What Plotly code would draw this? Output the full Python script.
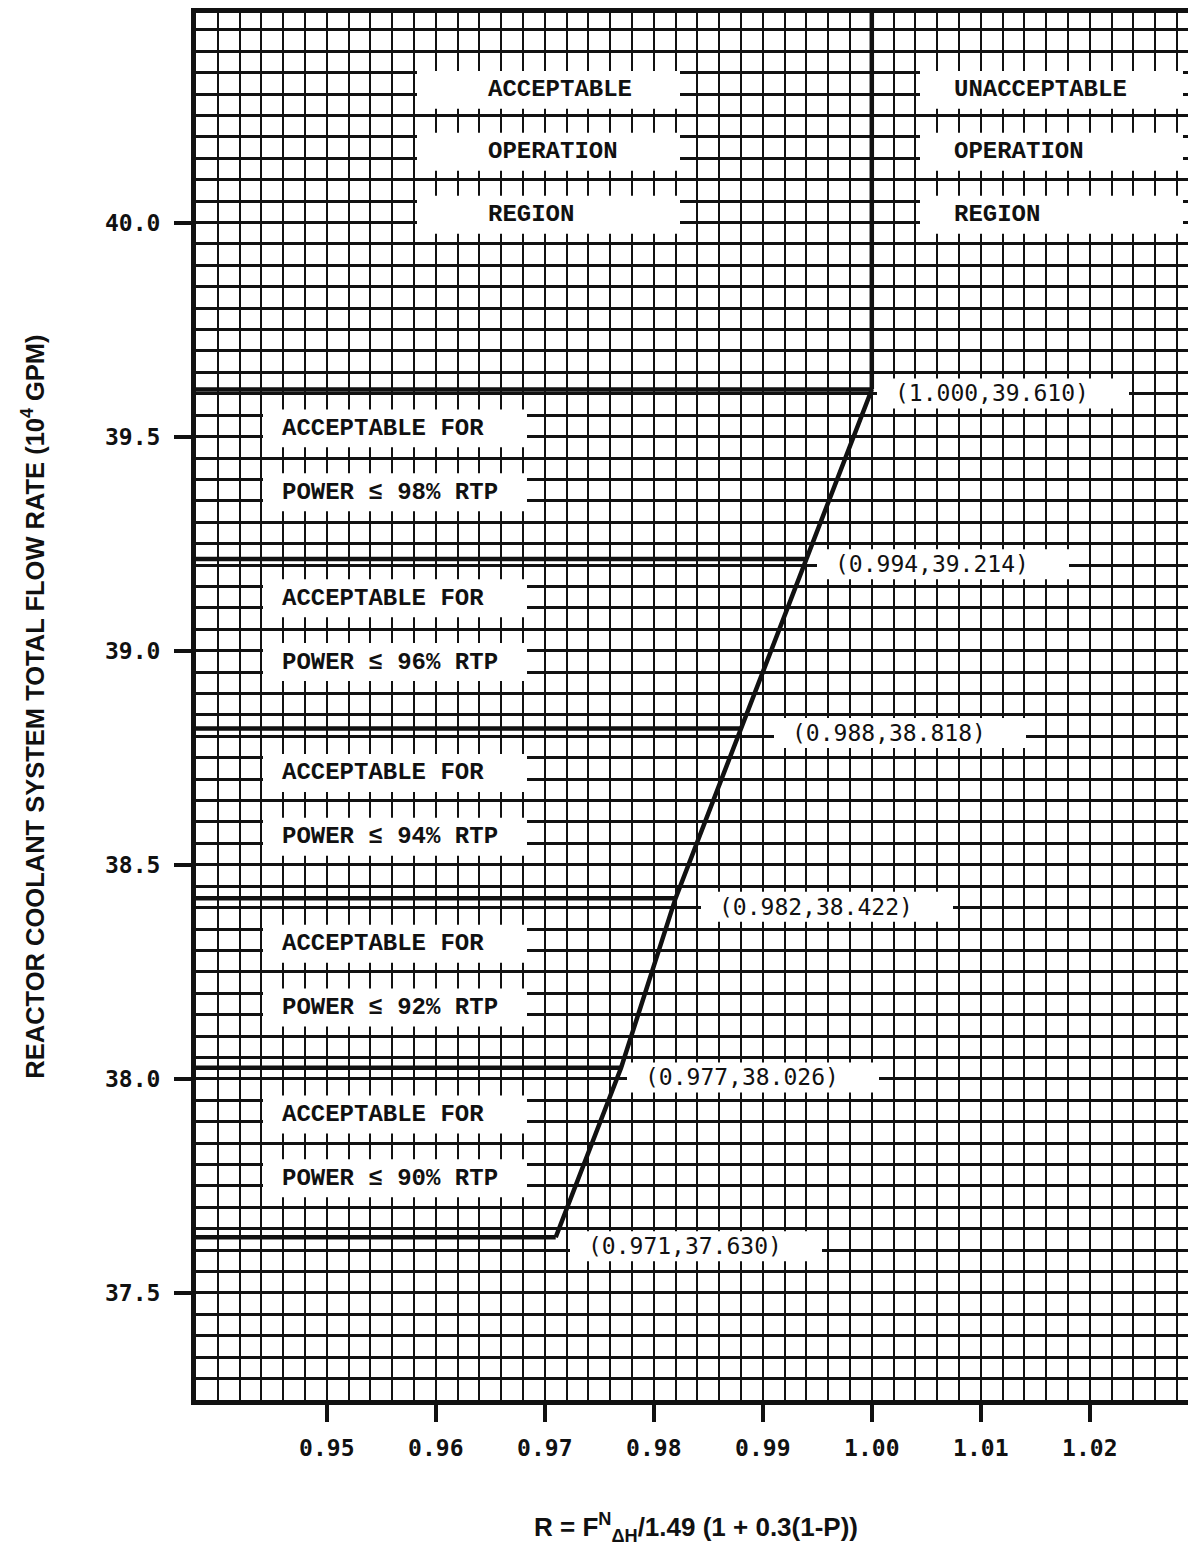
import plotly.graph_objects as go

# ---- data ----
R_points = [0.971, 0.977, 0.982, 0.988, 0.994, 1.000]
F_points = [37.630, 38.026, 38.422, 38.818, 39.214, 39.610]
power_limits = [98, 96, 94, 92, 90]

x_tickvals = [0.95, 0.96, 0.97, 0.98, 0.99, 1.00, 1.01, 1.02]
x_ticktext = ["0.95", "0.96", "0.97", "0.98", "0.99", "1.00", "1.01", "1.02"]
y_tickvals = [37.5, 38.0, 38.5, 39.0, 39.5, 40.0]
y_ticktext = ["37.5", "38.0", "38.5", "39.0", "39.5", "40.0"]

# ---- layout geometry ----
OFF = 8                      # page body margin of the html page
W, H = 1196 - OFF, 1553 - OFF
ML, MR, MT, MB = 188, 0, 3, 153
PW, PH = W - ML - MR, H - MT - MB
XPX, YPX = 10900.0, 428.8    # pixels per unit on each axis
x_range = [0.938, 0.938 + PW / XPX]
y_range = [37.25, 37.25 + PH / YPX]


def gx(page_x):
    """page pixel -> x data value (for placing text/boxes)"""
    return x_range[0] + (page_x - OFF - ML) / XPX


def gy(page_y):
    return y_range[1] - (page_y - OFF - MT) / YPX


BLACK = "#111111"
fig = go.Figure()

# boundary lines: horizontal steps from the left edge to each breakpoint
for r, f in zip(R_points, F_points):
    fig.add_trace(go.Scatter(x=[x_range[0], r], y=[f, f], mode="lines",
                             line=dict(color=BLACK, width=4.5),
                             hoverinfo="skip", showlegend=False))
# diagonal limit line through the breakpoints
fig.add_trace(go.Scatter(x=R_points, y=F_points, mode="lines",
                         line=dict(color=BLACK, width=4.5),
                         hoverinfo="skip", showlegend=False))
# vertical limit at R = 1.000 up to the top
fig.add_trace(go.Scatter(x=[R_points[-1], R_points[-1]], y=[F_points[-1], y_range[1]],
                         mode="lines", line=dict(color=BLACK, width=4.5),
                         hoverinfo="skip", showlegend=False))

shapes = []
annotations = []
REGION_FONT = dict(family="Liberation Mono", size=24, color=BLACK, weight="bold")
COORD_FONT = dict(family="DejaVu Sans Mono", size=23, color=BLACK)


def white_box(x0, x1, ycen, h):
    shapes.append(dict(type="rect", xref="x", yref="y", layer="between",
                       x0=gx(x0), x1=gx(x1), y0=gy(ycen + h / 2), y1=gy(ycen - h / 2),
                       fillcolor="white", line=dict(width=0)))


def text(t, left, ycen, font):
    annotations.append(dict(text=t, xref="x", yref="y", x=gx(left), y=gy(ycen),
                            xanchor="left", yanchor="middle", showarrow=False,
                            font=font))


rows_top = [88, 150, 213]
for i, t in enumerate(["ACCEPTABLE", "OPERATION", "REGION"]):
    white_box(417, 680, rows_top[i], 38)
    text(t, 486, rows_top[i], REGION_FONT)
for i, t in enumerate(["UNACCEPTABLE", "OPERATION", "REGION"]):
    white_box(920, 1183, rows_top[i], 38)
    text(t, 952, rows_top[i], REGION_FONT)

row_y = [427, 597, 772, 943, 1114]
for p, yc in zip(power_limits, row_y):
    white_box(263, 527, yc, 38)
    white_box(263, 527, yc + 64, 38)
    text("ACCEPTABLE FOR", 280, yc, REGION_FONT)
    text(f"POWER ≤ {p}% RTP", 280, yc + 64, REGION_FONT)

coord_left = [586, 643, 717, 790, 833, 893]
coord_y = [1246, 1077, 906, 732, 563, 392]
for r, f, xl, yc in zip(R_points, F_points, coord_left, coord_y):
    white_box(xl - 16, xl + 236, yc, 30)
    text(f"({r:.3f},{f:.3f})", xl, yc, COORD_FONT)

TICKFONT = dict(family="DejaVu Sans Mono", size=23, color=BLACK, weight="bold")
TITLEFONT = dict(family="Liberation Sans", size=25.5, color=BLACK, weight="bold")

fig.update_layout(
    width=W, height=H, autosize=False,
    margin=dict(l=ML, r=MR, t=MT, b=MB, pad=0),
    paper_bgcolor="white", plot_bgcolor="white",
    showlegend=False,
    shapes=shapes,
    annotations=annotations,
    xaxis=dict(range=x_range, tickmode="array", tickvals=x_tickvals, ticktext=x_ticktext,
               showgrid=True, gridcolor=BLACK, gridwidth=1.7,
               minor=dict(tickmode="linear", tick0=0.95, dtick=0.002, showgrid=True,
                          gridcolor=BLACK, gridwidth=1.7, ticks=""),
               ticks="outside", ticklen=17, tickwidth=4, tickcolor=BLACK,
               ticklabelstandoff=6, tickfont=TICKFONT,
               showline=True, linewidth=5, linecolor=BLACK, mirror=True, zeroline=False,
               title=dict(text="R = F<sup>N</sup><sub>ΔH</sub>/1.49 (1 + 0.3(1-P))",
                          font=dict(family="Liberation Sans", size=26, color=BLACK, weight="bold"),
                          standoff=60)),
    yaxis=dict(range=y_range, tickmode="array", tickvals=y_tickvals, ticktext=y_ticktext,
               showgrid=True, gridcolor=BLACK, gridwidth=2.5,
               minor=dict(tickmode="linear", tick0=37.25, dtick=0.05, showgrid=True,
                          gridcolor=BLACK, gridwidth=2.5, ticks=""),
               ticks="outside", ticklen=17, tickwidth=4, tickcolor=BLACK,
               ticklabelstandoff=9, tickfont=TICKFONT,
               showline=True, linewidth=5, linecolor=BLACK, mirror=False, zeroline=False,
               title=dict(text="REACTOR COOLANT SYSTEM TOTAL FLOW RATE (10<sup>4</sup> GPM)",
                          font=TITLEFONT, standoff=55)),
)

fig.write_html("out.html")
